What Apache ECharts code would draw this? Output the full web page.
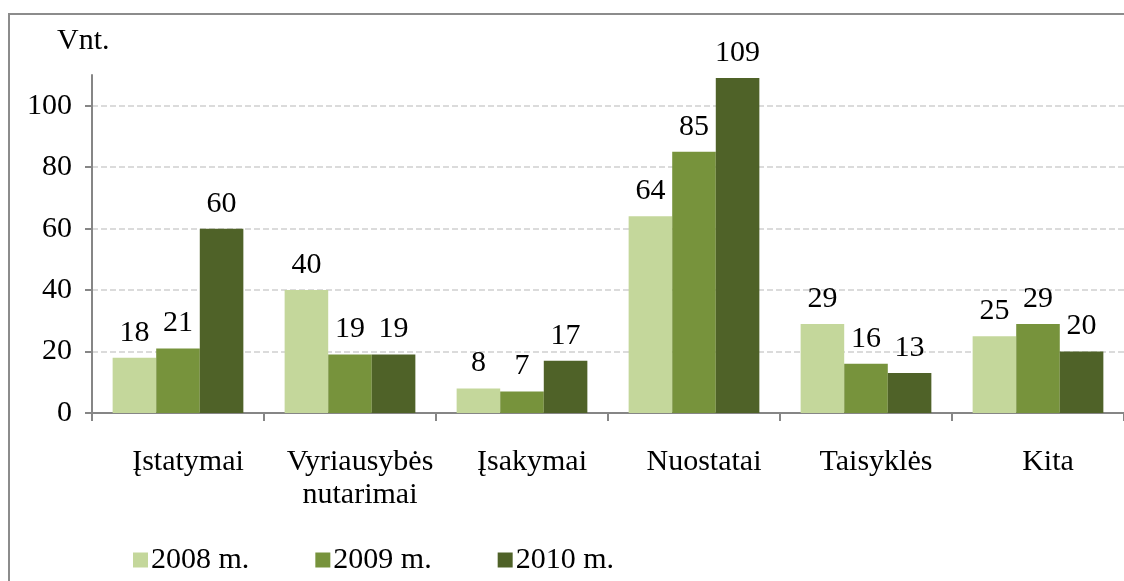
<!DOCTYPE html>
<html>
<head>
<meta charset="utf-8">
<script src="https://cdn.jsdelivr.net/npm/echarts@6/dist/echarts.min.js"></script>
<style>
  html, body { margin: 0; padding: 0; background: #fff; }
  #chart { width: 1124px; height: 581px; }
</style>
</head>
<body>
<div id="chart"></div>
<script>
// duomenys
const categories = ["Įstatymai", "Vyriausybės\nnutarimai", "Įsakymai", "Nuostatai", "Taisyklės", "Kita"];
const years = ["2008 m.", "2009 m.", "2010 m."];
const values2008 = [18, 40, 8, 64, 29, 25];
const values2009 = [21, 19, 7, 85, 16, 29];
const values2010 = [60, 19, 17, 109, 13, 20];
const yTicks = [0, 20, 40, 60, 80, 100];
const colors = ["#c4d79b", "#77933c", "#4f6228"];

const font = "'Liberation Serif', 'Times New Roman', serif";
const myChart = echarts.init(document.getElementById("chart"));

let makeSeries = (name, data, color) => ({
  name: name,
  type: "bar",
  data: data,
  barGap: "0%",
  barCategoryGap: "24%",
  itemStyle: { color: color },
  label: {
    show: true,
    position: "top",
    distance: 10,
    color: "#000",
    fontFamily: font,
    fontSize: 30
  }
});

const options = {
  animation: false,
  color: colors,
  textStyle: { fontFamily: font },
  grid: { left: 92, right: -8, top: 75, bottom: 168, containLabel: false },
  graphic: [
    {
      type: "rect",
      shape: { x: 9, y: 14, width: 1130, height: 600 },
      style: { fill: "none", stroke: "#8c8c8c", lineWidth: 2 },
      silent: true
    },
    {
      type: "text",
      left: 57,
      top: 26,
      style: { text: "Vnt.", font: "30px " + font, fill: "#000" }
    }
  ],
  legend: {
    left: 128,
    top: 540,
    itemWidth: 15,
    itemHeight: 15,
    itemGap: 66,
    icon: "rect",
    textStyle: { fontFamily: font, fontSize: 30, color: "#000", padding: [0, 0, 0, -2] },
    data: years
  },
  xAxis: {
    type: "category",
    data: categories,
    axisLine: { lineStyle: { color: "#868686", width: 2 } },
    axisTick: { show: true, length: 8, lineStyle: { color: "#868686", width: 2 } },
    axisLabel: {
      interval: 0,
      color: "#000",
      fontFamily: font,
      fontSize: 30,
      lineHeight: 33,
      margin: 33,
      padding: [0, 0, 0, 20]
    }
  },
  yAxis: {
    type: "value",
    min: 0,
    max: 110,
    interval: 20,
    axisLine: { show: true, lineStyle: { color: "#868686", width: 2 } },
    axisTick: { show: true, length: 7, customValues: yTicks, lineStyle: { color: "#868686", width: 2 } },
    axisLabel: {
      customValues: yTicks,
      color: "#000",
      fontFamily: font,
      fontSize: 30,
      margin: 20
    },
    splitLine: {
      show: true,
      lineStyle: {
        type: [6, 3],
        width: 1.5,
        color: ["#d0d0d0", "#d0d0d0", "#d0d0d0", "#d0d0d0", "#d0d0d0", "#d0d0d0", "rgba(0,0,0,0)"]
      }
    }
  },
  series: [
    makeSeries(years[0], values2008, colors[0]),
    makeSeries(years[1], values2009, colors[1]),
    makeSeries(years[2], values2010, colors[2])
  ]
};

myChart.setOption(options);
</script>
</body>
</html>
